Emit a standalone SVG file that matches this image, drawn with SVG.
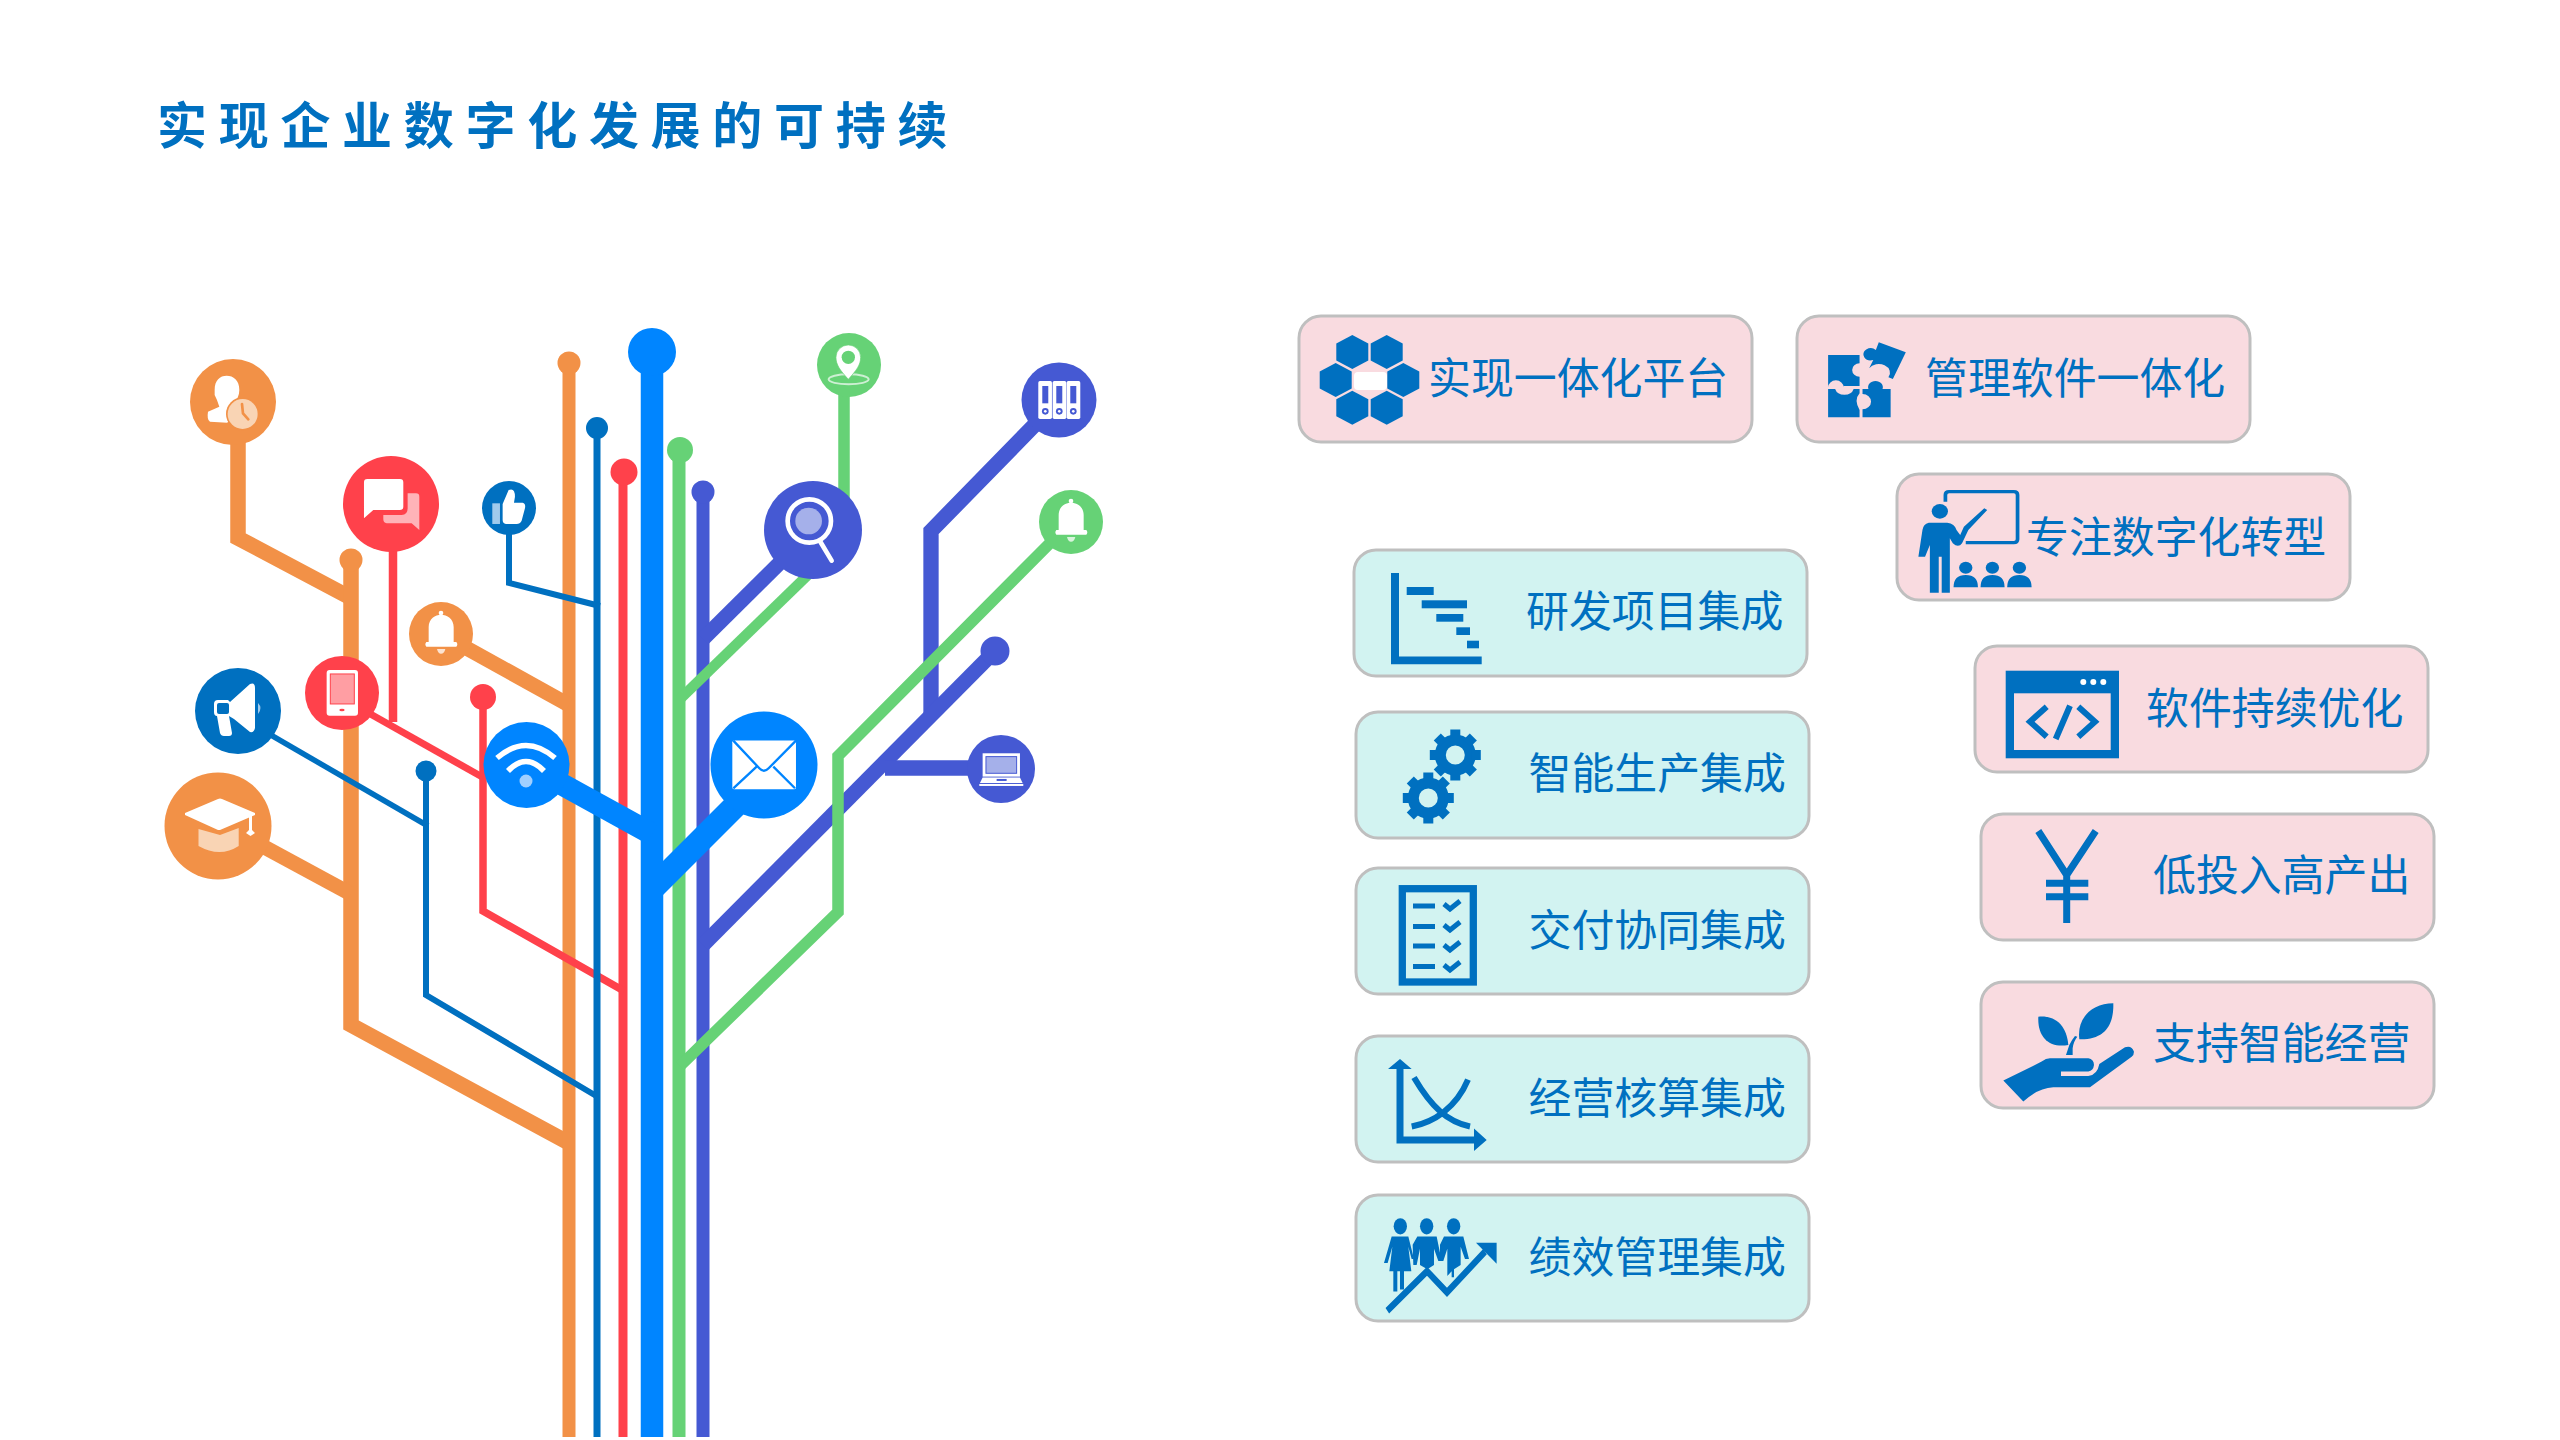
<svg xmlns="http://www.w3.org/2000/svg" xmlns:xlink="http://www.w3.org/1999/xlink" width="2560" height="1440" viewBox="0 0 2560 1440">
<style>
text{font-family:"Noto Sans CJK SC","Liberation Sans",sans-serif;fill:#0070C0}
.title{font-size:50px;font-weight:700;letter-spacing:11.700px}
.lbl{font-size:42.900px}
.pink{fill:#F9DBE0;stroke:#BFBFBF;stroke-width:3}
.teal{fill:#D2F3F1;stroke:#BFBFBF;stroke-width:3}
.ic{fill:#0070C0}
.is{fill:none;stroke:#0070C0}
.w{fill:#fff}
path.l,line.l{fill:none;stroke-linejoin:miter}
.o{stroke:#F29147}.r{stroke:#FF414B}.b{stroke:#0070C0}.g{stroke:#66D276}.n{stroke:#4559D3}.c{stroke:#0085FF}
.fo{fill:#F29147}.fr{fill:#FF414B}.fb{fill:#0070C0}.fg{fill:#66D276}.fn{fill:#4559D3}.fc{fill:#0085FF}
</style>
<defs>
<g id="bell"><circle cx="0" cy="-57" r="7" fill="#fff"/><path fill="#fff" d="M-37,30V-15C-37,-40 -17,-52 0,-52C18,-52 38,-40 38,-15V30H46Q52,37 46,44H-44Q-50,37 -44,30Z"/><path fill="#fff" fill-opacity=".75" d="M-12,51H13Q10,65 0,65Q-9,65 -12,51Z"/></g>
<g id="gear"><circle r="15" fill="none" stroke="#0070C0" stroke-width="11"/><g fill="#0070C0"><rect x="-5" y="-25.500" width="10" height="9"/><rect x="-5" y="-25.500" width="10" height="9" transform="rotate(45)"/><rect x="-5" y="-25.500" width="10" height="9" transform="rotate(90)"/><rect x="-5" y="-25.500" width="10" height="9" transform="rotate(135)"/><rect x="-5" y="-25.500" width="10" height="9" transform="rotate(180)"/><rect x="-5" y="-25.500" width="10" height="9" transform="rotate(225)"/><rect x="-5" y="-25.500" width="10" height="9" transform="rotate(270)"/><rect x="-5" y="-25.500" width="10" height="9" transform="rotate(315)"/></g></g>
<polygon id="hex" points="0,-17 16,-8.500 16,8.500 0,17 -16,8.500 -16,-8.500"/>
</defs>
<rect width="2560" height="1440" fill="#fff"/>
<text class="title" x="157" y="144">实现企业数字化发展的可持续</text>

<g id="connectors">
<g class="o">
<path class="l" stroke-width="15.500" d="M238,402V538L351,598"/>
<path class="l" stroke-width="15.500" d="M351,560V1025L569,1143"/>
<path class="l" stroke-width="13" d="M569,363V1437"/>
<path class="l" stroke-width="15" d="M441,634L569,705"/>
<path class="l" stroke-width="15" d="M218,822L351,894"/>
</g>
<circle class="fo" cx="351" cy="560" r="11.500"/><circle class="fo" cx="569" cy="363" r="11.500"/>
<g class="r">
<path class="l" stroke-width="9" d="M623,472V1437"/>
<path class="l" stroke-width="8.500" d="M393,504V722"/>
<path class="l" stroke-width="7" d="M342,698L484,778"/>
<path class="l" stroke-width="7.500" d="M483,697V911L624,991"/>
</g>
<circle class="fr" cx="624" cy="472" r="13.500"/><circle class="fr" cx="483" cy="697" r="13"/>
<g class="b">
<path class="l" stroke-width="7" d="M597,428V1437"/>
<path class="l" stroke-width="6" d="M509,508V583L600,606"/>
<path class="l" stroke-width="5.500" d="M238,716L428,826"/>
<path class="l" stroke-width="6" d="M426,771V995L598,1097"/>
</g>
<circle class="fb" cx="597" cy="428" r="11"/><circle class="fb" cx="426" cy="771" r="10.500"/>
<g class="n">
<path class="l" stroke-width="13" d="M703,492V1437"/>
<path class="l" stroke-width="15" d="M813,530L703,639"/>
<path class="l" stroke-width="15.300" d="M1059,400L931,531V716"/>
<path class="l" stroke-width="15" d="M995,651L703,945"/>
<path class="l" stroke-width="15.500" d="M885,768H1001"/>
</g>
<circle class="fn" cx="703" cy="492" r="11.500"/><circle class="fn" cx="995" cy="651" r="14.500"/>
<g class="g">
<path class="l" stroke-width="13" d="M679,450V1437"/>
<path class="l" stroke-width="11.500" d="M844,365V530"/>
<path class="l" stroke-width="10.500" d="M813,570L679,700"/>
<path class="l" stroke-width="11.500" d="M1071,522L838,756V912L680,1066"/>
</g>
<circle class="fg" cx="680" cy="450" r="13"/>
<g class="c">
<path class="l" stroke-width="22.500" d="M652,352V1437"/>
<path class="l" stroke-width="22" d="M527,765L652,834"/>
<path class="l" stroke-width="24" d="M770,771L652,889"/>
</g>
<circle class="fc" cx="652" cy="352" r="24"/>
</g>

<g id="node-user"><circle class="fo" cx="233" cy="402" r="43"/>
<g transform="translate(140 300) scale(.3333)"><path class="w" d="M224,270C224,240 240,227 260,227C280,227 298,240 298,270C298,285 292,300 280,310L290,325L262,368L210,365Q200,360 204,335L238,320Q232,300 224,285Z"/><circle cx="308" cy="342" r="50" fill="#F29147"/><circle cx="308" cy="342" r="45" fill="#F9D4B4"/><path d="M306,312L309,340L325,358" fill="none" stroke="#F29147" stroke-width="8" stroke-linecap="round"/></g></g>

<g id="node-chat"><circle class="fr" cx="391" cy="504" r="48"/>
<g transform="translate(140 300) scale(.3333)"><path class="w" d="M682,537H780Q790,537 790,547V620Q790,630 780,630H700L672,655V547Q672,537 682,537Z"/><path fill="#FFB3B8" d="M803,580H828Q838,580 838,590V690L815,670H740Q730,668 730,658V645H785Q803,645 803,625Z"/></g></g>

<g id="node-thumb"><circle class="fb" cx="509" cy="508" r="27"/>
<g transform="translate(140 300) scale(.3333)"><rect x="1057" y="610" width="23" height="62" fill="#A0CAEC"/><path class="w" d="M1088,612L1106,570Q1125,562 1125,590L1122,608H1148Q1158,610 1155,625L1145,662Q1140,672 1130,672H1098Q1088,670 1088,660Z"/></g></g>

<g id="node-bell-orange"><circle class="fo" cx="441" cy="634" r="32"/><use xlink:href="#bell" href="#bell" transform="translate(441 632) scale(.3333)"/></g>

<g id="node-megaphone"><circle class="fb" cx="238" cy="711" r="43"/>
<path class="w" d="M230,702L250,684Q255,682 255,688V728Q254,733 250,732L234,719L229,716L232,733Q232,736 229,736H224Q221,736 220,733L217,716Q214,716 214,712V704Q214,700 218,700H228Z"/><rect x="217" y="703" width="12" height="11" rx="2" class="fb"/><path fill="#A0CAEC" d="M258,703Q263,708 258,714Z"/></g>

<g id="node-tablet"><circle class="fr" cx="342" cy="693" r="37"/>
<g transform="translate(140 300) scale(.3333)"><rect x="560" y="1110" width="94" height="137" rx="9" class="w"/><rect x="571" y="1122" width="72" height="90" fill="#FF9EA3" stroke="#FF414B" stroke-width="3"/><ellipse cx="606" cy="1230" rx="8" ry="4" class="fr"/></g></g>

<g id="node-graduation"><circle class="fo" cx="218" cy="826" r="53.500"/>
<path fill="#F9D4B4" d="M198.500,829L220,835L238.700,828V846Q220,858 198.500,846Z"/><path class="w" d="M185,813L218,799Q220,798 222,799L255,813V815L220,830Q219,830 218,830L185,815Z"/><path class="w" d="M249,816H252V830L255,833L250.500,836L246,833L249,830Z"/></g>

<g id="node-wifi"><circle class="fc" cx="526.500" cy="765" r="43"/>
<path d="M497,758Q526,733 555,758M508,771Q526,752 544,771" fill="none" stroke="#fff" stroke-width="5.500"/><circle cx="526" cy="781" r="6.500" fill="#A0CFFF"/></g>

<g id="node-mail"><circle class="fc" cx="764" cy="765" r="53.500"/>
<g transform="translate(600 300) scale(.3333)"><rect x="397" y="1322" width="191" height="146" rx="5" class="w"/><path d="M400,1322L478,1405Q492,1420 506,1405L588,1322M400,1465L470,1400M585,1465L520,1400" fill="none" stroke="#0085FF" stroke-width="7"/></g></g>

<g id="node-magnifier"><circle class="fn" cx="813" cy="530" r="49"/>
<g transform="translate(600 300) scale(.3333)"><circle cx="628" cy="663" r="65" fill="#4559D3" stroke="#fff" stroke-width="14"/><circle cx="626" cy="663" r="40" fill="#A5B0EA"/><path d="M662,727L695,782" stroke="#fff" stroke-width="14" stroke-linecap="round"/></g></g>

<g id="node-pin"><circle class="fg" cx="849" cy="365" r="32"/>
<g transform="translate(600 300) scale(.3333)"><ellipse cx="746" cy="238" rx="60" ry="15" fill="none" stroke="#CDEFD3" stroke-width="6"/><path class="w" d="M745,238C720,210 708,195 708,172A37,37 0 1 1 782,172C782,195 770,210 745,238Z" stroke="#66D276" stroke-width="2"/><circle cx="745" cy="172" r="20" class="fg"/></g></g>

<g id="node-folders"><circle class="fn" cx="1059" cy="400" r="37.500"/>
<g transform="translate(600 300) scale(.3333)">
<rect x="1315" y="243" width="41" height="114" rx="5" class="w"/><rect x="1358" y="243" width="41" height="114" rx="5" class="w"/><rect x="1400" y="243" width="41" height="114" rx="5" class="w"/>
<g class="fn"><rect x="1327" y="258" width="18" height="52"/><rect x="1369" y="258" width="18" height="52"/><rect x="1411" y="258" width="18" height="52"/><circle cx="1336" cy="334" r="10"/><circle cx="1378" cy="334" r="10"/><circle cx="1420" cy="334" r="10"/></g>
<g class="w"><circle cx="1336" cy="334" r="4"/><circle cx="1378" cy="334" r="4"/><circle cx="1420" cy="334" r="4"/></g></g></g>

<g id="node-bell-green"><circle class="fg" cx="1071" cy="522" r="32"/><use xlink:href="#bell" href="#bell" transform="translate(1071 520) scale(.3333)"/></g>

<g id="node-laptop"><circle class="fn" cx="1001" cy="769" r="34"/>
<g transform="translate(600 300) scale(.3333)"><rect x="1148" y="1360" width="112" height="70" class="w"/><rect x="1158" y="1370" width="92" height="50" fill="#A5B0EA" stroke="#4559D3" stroke-width="3"/><path class="w" d="M1148,1433H1260L1268,1449H1140Z"/><rect x="1190" y="1437" width="30" height="6" class="fn"/><rect x="1138" y="1452" width="132" height="6" class="w"/></g></g>

<g id="box-platform"><rect class="pink" x="1299" y="316" width="453" height="126" rx="22"/>
<g class="ic"><use xlink:href="#hex" href="#hex" x="1352.300" y="352"/><use xlink:href="#hex" href="#hex" x="1386.700" y="352"/><use xlink:href="#hex" href="#hex" x="1335.700" y="380"/><use xlink:href="#hex" href="#hex" x="1403.300" y="380"/><use xlink:href="#hex" href="#hex" x="1352.300" y="407.700"/><use xlink:href="#hex" href="#hex" x="1386.700" y="407.700"/></g><rect x="1354" y="372" width="33" height="18" rx="4" class="w"/>
<text class="lbl" x="1428" y="394">实现一体化平台</text></g>

<g id="box-software"><rect class="pink" x="1797" y="316" width="453" height="126" rx="22"/>
<g transform="translate(1790 300) scale(.37 .3333)" class="ic"><path fill-rule="evenodd" d="M103,165H188V190A20,20 0 1 0 188,230V258H145V262A20,20 0 0 0 103,262ZM103,267H122A26,24 0 0 0 172,267H188V280Q172,300 188,330V352H103Z"/><path d="M196,267H212A20,18 0 1 1 250,267H272V352H196V328A22,22 0 0 0 196,282Z"/><path d="M240,127L313,157L278,237L266,232A30,26 0 0 0 214,205L225,180A20,18 0 1 1 232,150Z"/></g>
<text class="lbl" x="1925" y="394">管理软件一体化</text></g>

<g id="box-digital"><rect class="pink" x="1897" y="474" width="453" height="126" rx="22"/>
<g transform="translate(1790 300) scale(.37 .3333)"><path class="is" stroke-width="10" d="M420,605V585Q420,575 430,575H605Q615,575 615,585V718Q615,728 605,728H475"/><g class="ic"><circle cx="405" cy="634" r="22"/><path d="M375,668H425Q445,670 450,690L460,705L470,680L525,625L533,630L482,690L465,730Q455,745 440,730L432,715V878H410V770H402V878H378V735L365,770H347L358,690Q360,672 375,668Z"/><circle cx="475" cy="803" r="18"/><circle cx="547" cy="803" r="18"/><circle cx="620" cy="803" r="18"/><path d="M442,862Q442,825 475,825Q508,825 508,862ZM515,862Q515,825 547,825Q580,825 580,862ZM587,862Q587,825 620,825Q653,825 653,862Z"/></g></g>
<text class="lbl" x="2026" y="553">专注数字化转型</text></g>

<g id="box-rd"><rect class="teal" x="1354" y="550" width="453" height="126" rx="22"/>
<g class="ic"><path d="M1391,573H1399V656.500H1481.700V664.300H1391Z"/><rect x="1406.700" y="587" width="27" height="8"/><rect x="1421.700" y="600.300" width="45.300" height="8"/><rect x="1436.300" y="614" width="27" height="7.700"/><rect x="1456.300" y="627.300" width="13.700" height="7.700"/><rect x="1467" y="640.700" width="12" height="7.600"/></g>
<text class="lbl" x="1526" y="627">研发项目集成</text></g>

<g id="box-production"><rect class="teal" x="1356" y="712" width="453" height="126" rx="22"/>
<use xlink:href="#gear" href="#gear" x="1455.300" y="755"/><use xlink:href="#gear" href="#gear" x="1428.300" y="798"/>
<text class="lbl" x="1528.500" y="789">智能生产集成</text></g>

<g id="box-delivery"><rect class="teal" x="1356" y="868" width="453" height="126" rx="22"/>
<rect x="1402.300" y="888.700" width="71" height="93.300" fill="none" stroke="#0070C0" stroke-width="7.300"/>
<g class="is" stroke-width="5"><path d="M1413,906H1435M1413,926.500H1435M1413,946H1435M1413,966.500H1435"/><path d="M1444,904L1450,909L1460,901M1444,925L1450,930L1460,922M1444,945L1450,950L1460,942M1444,965L1450,970L1460,962"/></g>
<text class="lbl" x="1528.500" y="946">交付协同集成</text></g>

<g id="box-accounting"><rect class="teal" x="1356" y="1036" width="453" height="126" rx="22"/>
<path class="is" stroke-width="7" d="M1400,1068V1140H1476"/><path class="ic" d="M1388,1069L1400,1059L1411.700,1069ZM1474,1128.600L1486.700,1140L1474,1151Z"/>
<path class="is" stroke-width="6" d="M1414,1077.500C1432,1108 1448,1122 1470,1126.500M1411.700,1126.500C1434,1122 1456,1108 1468,1079.600"/>
<text class="lbl" x="1528.500" y="1114">经营核算集成</text></g>

<g id="box-performance"><rect class="teal" x="1356" y="1195" width="453" height="126" rx="22"/>
<g transform="translate(1340 700) scale(.3333 .408)"><g class="ic"><circle cx="181" cy="1290" r="20"/><circle cx="260" cy="1290" r="20"/><circle cx="341" cy="1290" r="20"/><path d="M155,1315H205L222,1370H215L205,1340L214,1400H192V1445H180V1400H172V1450H160V1400H148L157,1340L143,1380H132Z"/><path d="M232,1315H290L305,1375H295L282,1345L282,1385L262,1395L240,1385L240,1345L230,1385H220L218,1335Z"/><path d="M312,1315H370L387,1370H375L362,1340V1385L342,1395V1415H335V1400L322,1412V1345L310,1375H300L300,1335Z"/></g><path class="is" stroke-width="17" d="M142,1497L261,1400L321,1452L435,1352"/><path class="ic" d="M408,1330H470V1382Z"/></g>
<text class="lbl" x="1528.500" y="1273">绩效管理集成</text></g>

<g id="box-optimize"><rect class="pink" x="1975" y="646" width="453" height="126" rx="22"/>
<rect x="2005.700" y="670.700" width="113.300" height="87.600" class="ic"/><rect x="2014" y="693.300" width="96.700" height="56.700" fill="#F9DBE0"/>
<circle cx="2083.300" cy="682" r="3" class="w"/><circle cx="2093.300" cy="682" r="3" class="w"/><circle cx="2103.300" cy="682" r="3" class="w"/>
<path class="is" stroke-width="6" d="M2046.700,706.700L2030,721.700L2046.700,736.700M2070,705.700L2055.700,739M2078.300,706.700L2095,721.700L2078.300,736.700"/>
<text class="lbl" x="2146" y="724">软件持续优化</text></g>

<g id="box-roi"><rect class="pink" x="1981" y="814" width="453" height="126" rx="22"/>
<path class="is" stroke-width="7" d="M2038.300,831L2066.700,875L2095.700,831M2066.700,875V923M2046,883.300H2088.300M2046,896.700H2088.300"/>
<text class="lbl" x="2153" y="891">低投入高产出</text></g>

<g id="box-support"><rect class="pink" x="1981" y="982" width="453" height="126" rx="22"/>
<g transform="translate(1960 640) scale(.3333)" class="ic"><path d="M235,1130C290,1125 320,1160 325,1215C270,1225 232,1195 235,1130Z"/><path d="M460,1090C462,1160 430,1200 358,1198C350,1135 395,1090 460,1090Z"/><path d="M318,1245H338L338,1225Q340,1205 352,1190L345,1188Q335,1200 328,1215Z"/><path d="M130,1322L245,1265Q258,1255 270,1255H385Q402,1258 402,1275Q400,1292 385,1295H303V1308H385Q412,1305 418,1272L495,1222Q515,1215 522,1235Q522,1245 515,1250L390,1342H280Q232,1345 190,1385Z"/></g>
<text class="lbl" x="2153" y="1059">支持智能经营</text></g>
</svg>
